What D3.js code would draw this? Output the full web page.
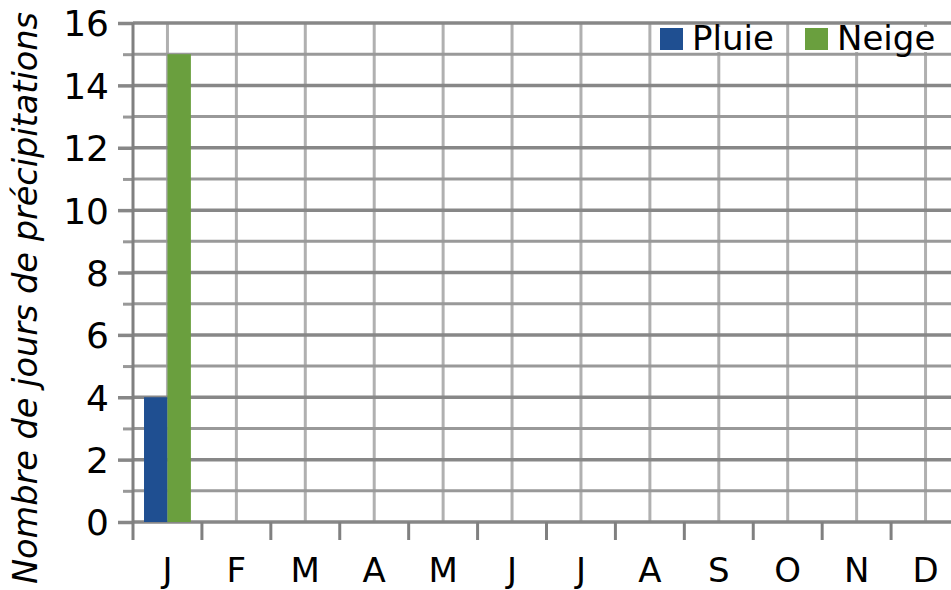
<!DOCTYPE html>
<html>
<head>
<meta charset="utf-8">
<script src="https://cdn.jsdelivr.net/npm/d3@7"></script>
<style>
  body { margin: 0; background: #fff; }
  svg { display: block; font-family: "DejaVu Sans", sans-serif; }
</style>
</head>
<body>
<svg id="chart" width="951" height="590"></svg>
<script>
// data
const months = ["J", "F", "M", "A", "M2", "J2", "J3", "A2", "S", "O", "N", "D"];
const monthLabels = ["J", "F", "M", "A", "M", "J", "J", "A", "S", "O", "N", "D"];
const seriesNames = ["Pluie", "Neige"];
const pluie = [4, 0, 0, 0, 0, 0, 0, 0, 0, 0, 0, 0];
const neige = [15, 0, 0, 0, 0, 0, 0, 0, 0, 0, 0, 0];
const colors = ["#1f4f91", "#6a9f3e"];

const svg = d3.select("#chart");
const plotLeft = 133, plotRight = 960, plotTop = 23, plotBottom = 522;

const x = d3.scaleBand().domain(months).range([plotLeft, plotRight]).padding(0);
const xs = d3.scaleBand().domain(seriesNames).range([0, x.bandwidth()])
  .paddingInner(0).paddingOuter(0.47);
const y = d3.scaleLinear().domain([0, 16]).range([plotBottom, plotTop]);

const major = d3.range(0, 17, 2);
const minor = d3.range(1, 16, 2);

// vertical gridlines at category centres
svg.append("g").selectAll("line")
  .data(months)
  .join("line")
  .attr("x1", d => x(d) + x.bandwidth() / 2)
  .attr("x2", d => x(d) + x.bandwidth() / 2)
  .attr("y1", plotTop)
  .attr("y2", plotBottom)
  .attr("stroke", "#b0b0b0")
  .attr("stroke-width", 3);

// horizontal gridlines
svg.append("g").selectAll("line")
  .data(minor)
  .join("line")
  .attr("x1", plotLeft).attr("x2", plotRight)
  .attr("y1", d => y(d)).attr("y2", d => y(d))
  .attr("stroke", "#999")
  .attr("stroke-width", 3);

svg.append("g").selectAll("line")
  .data(major)
  .join("line")
  .attr("x1", plotLeft).attr("x2", plotRight)
  .attr("y1", d => y(d)).attr("y2", d => y(d))
  .attr("stroke", "#878787")
  .attr("stroke-width", 3.5);

// bars
const rows = months.map((m, i) => ({ month: m, values: [pluie[i], neige[i]] }));
const groups = svg.append("g").selectAll("g")
  .data(rows)
  .join("g")
  .attr("transform", d => `translate(${x(d.month)},0)`);

groups.selectAll("rect")
  .data(d => d.values.map((v, j) => ({ key: seriesNames[j], value: v, color: colors[j] })))
  .join("rect")
  .attr("x", d => xs(d.key))
  .attr("width", xs.bandwidth())
  .attr("y", d => y(d.value))
  .attr("height", d => plotBottom - y(d.value))
  .attr("fill", d => d.color);

// y axis (major ticks with labels, minor ticks without)
const yAxis = svg.append("g")
  .attr("transform", `translate(${plotLeft},0)`)
  .call(d3.axisLeft(y).tickValues(major).tickSize(15).tickPadding(9).tickFormat(d3.format("d")));
yAxis.select(".domain").remove();
yAxis.selectAll(".tick line").attr("stroke", "#878787").attr("stroke-width", 3.5);
yAxis.selectAll(".tick text")
  .attr("font-size", 36)
  .attr("fill", "#000")
  .attr("dy", "0.36em")
  .style("font-family", "DejaVu Sans");

const yMinor = svg.append("g")
  .attr("transform", `translate(${plotLeft},0)`)
  .call(d3.axisLeft(y).tickValues(minor).tickSize(10).tickFormat(""));
yMinor.select(".domain").remove();
yMinor.selectAll(".tick line").attr("stroke", "#999").attr("stroke-width", 3);

// left axis line
svg.append("line")
  .attr("x1", plotLeft).attr("x2", plotLeft)
  .attr("y1", plotTop).attr("y2", plotBottom + 18)
  .attr("stroke", "#808080")
  .attr("stroke-width", 3);

// x ticks at category boundaries
svg.append("g").selectAll("line")
  .data(months.slice(1))
  .join("line")
  .attr("x1", d => x(d)).attr("x2", d => x(d))
  .attr("y1", plotBottom).attr("y2", plotBottom + 18)
  .attr("stroke", "#808080")
  .attr("stroke-width", 3);

// x labels
const xAxis = svg.append("g")
  .attr("transform", `translate(0,${plotBottom})`)
  .call(d3.axisBottom(x).tickSize(0).tickPadding(0)
    .tickFormat((d, i) => monthLabels[i]));
xAxis.select(".domain").remove();
xAxis.selectAll(".tick text")
  .attr("y", 60)
  .attr("dy", 0)
  .attr("font-size", 34)
  .attr("fill", "#000")
  .style("font-family", "DejaVu Sans");

// y axis title
svg.append("text")
  .attr("transform", "translate(37,584) rotate(-90)")
  .attr("text-anchor", "start")
  .attr("font-size", 33)
  .attr("font-style", "italic")
  .attr("textLength", 572)
  .attr("lengthAdjust", "spacingAndGlyphs")
  .text("Nombre de jours de précipitations");

// legend
const legendX = [660, 805];
const legend = svg.append("g").selectAll("g")
  .data(seriesNames)
  .join("g")
  .attr("transform", (d, i) => `translate(${legendX[i]},28)`);

legend.append("rect")
  .attr("x", 30).attr("y", -1)
  .attr("width", (d, i) => i === 0 ? 86 : 96).attr("height", 25)
  .attr("fill", "#fff");
legend.append("rect")
  .attr("width", 23).attr("height", 22)
  .attr("fill", (d, i) => colors[i]);
legend.append("text")
  .attr("x", 32).attr("y", 22)
  .attr("font-size", 34)
  .attr("fill", "#000")
  .text(d => d);
</script>
</body>
</html>
